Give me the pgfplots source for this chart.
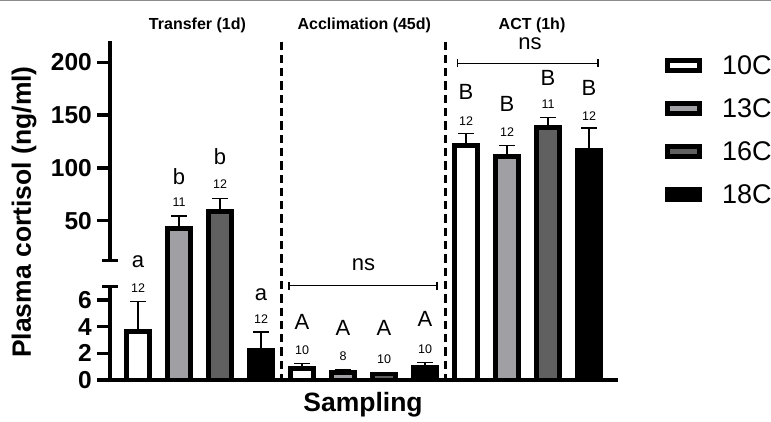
\documentclass[border=0pt]{standalone}
\usepackage{fontspec}
\setmainfont{Liberation Sans}
\usepackage{pgfplots}
\usepackage{pgfplotstable}
\pgfplotsset{compat=1.18}

\definecolor{g13}{RGB}{160,160,164}
\definecolor{g16}{RGB}{96,96,96}
\newcommand\fs[1]{\fontsize{#1}{#1}\selectfont}

% x = bar position (0-3 Transfer, 4-7 Acclimation, 8-11 ACT), y = mean, e = SEM
\pgfplotstableread{
x y e
0 3.62 2.28
4 0.88 0.37
8 121.2 11.1
}\tenC
\pgfplotstableread{
x y e
1 42.8 11.7
5 0.58 0.22
9 110.8 10.4
}\thirteenC
\pgfplotstableread{
x y e
2 58.5 12.8
6 0.45 0.13
10 138.3 9.5
}\sixteenC
\pgfplotstableread{
x y e
3 2.25 1.35
7 0.95 0.38
11 116.5 21.2
}\eighteenC

\pgfplotsset{
  brk/.style={scale only axis, width=508pt, xmin=-0.683, xmax=11.707,
    clip mode=individual, tick align=outside, major tick length=13pt,
    major tick style={line width=3.5pt, black},
    yticklabel style={font=\fs{24.5}\bfseries, inner sep=0pt, xshift=-5pt}},
  bs/.style={ybar, bar width=23pt, bar shift=0pt, line width=4.5pt, draw=black,
    error bars/y dir=plus, error bars/y explicit,
    error bars/error bar style={line width=1.3pt, black, solid},
    error bars/error mark options={rotate=90, mark size=8pt, line width=1.3pt, black}},
  leg/.style={legend image code/.code={%
    \draw[##1, line width=5pt] (0pt,-5.25pt) rectangle (32pt,5.25pt);
    \path (52pt,0pt);}},
}
\tikzset{
  nn/.style={font=\fs{12.5}, inner sep=0pt},
  lt/.style={font=\fs{22}, inner sep=0pt},
  dsh/.style={line width=3pt, dash pattern=on 8.3pt off 5pt},
}

\begin{document}
\begin{tikzpicture}
\path[use as bounding box] (0,0) rectangle (771pt,421pt);
\draw[black!45, line width=1pt] (0,420.5pt) -- (771pt,420.5pt);

% upper segment (only the values that reach it)
\begin{axis}[brk, at={(110pt,161pt)}, anchor=south west, height=219.3pt,
  ymin=12.8, ymax=220.5, restrict y to domain=12.8:1000,
  hide x axis, axis y line*=left,
  y axis line style={line width=3.5pt, -},
  ytick={50,100,150,200}, yticklabels={50,100,150,200},
  legend style={at={(axis description cs:1,1)}, anchor=north west,
    xshift=47.2pt, yshift=-14.6pt, draw=none, fill=none, inner sep=0pt,
    row sep=22.6pt, font=\fs{27}, nodes={inner sep=0pt}},
  legend cell align=left]
\addplot[bs, fill=white, leg] table[x=x, y=y, y error=e] {\tenC};
\addplot[bs, fill=g13, leg] table[x=x, y=y, y error=e] {\thirteenC};
\addplot[bs, fill=g16, leg] table[x=x, y=y, y error=e] {\sixteenC};
\addplot[bs, fill=black, leg] table[x=x, y=y, y error=e] {\eighteenC};
\legend{10C,13C,16C,18C}
\draw[line width=3pt] ([xshift=-8pt]axis cs:-0.683,12.8) -- ([xshift=8pt]axis cs:-0.683,12.8);
\node[nn] at (axis cs:1,68) {11};
\node[lt] at (axis cs:1,91.7) {b};
\node[nn] at (axis cs:2,84.8) {12};
\node[lt] at (axis cs:2,110.6) {b};
\node[nn] at (axis cs:8,144.7) {12};
\node[lt] at (axis cs:8,171.6) {B};
\node[nn] at (axis cs:9,133.7) {12};
\node[lt] at (axis cs:9,160.2) {B};
\node[nn] at (axis cs:10,160.2) {11};
\node[lt] at (axis cs:10,184.8) {B};
\node[nn] at (axis cs:11,149.4) {12};
\node[lt] at (axis cs:11,175.4) {B};
\draw[line width=1.3pt] (axis cs:7.79,199) -- (axis cs:11.22,199);
\draw[line width=1.3pt] ([yshift=4pt]axis cs:7.79,199) -- ([yshift=-4pt]axis cs:7.79,199);
\draw[line width=1.3pt] ([yshift=4pt]axis cs:11.22,199) -- ([yshift=-4pt]axis cs:11.22,199);
\node[font=\fs{22}, inner sep=0pt] at (axis cs:9.56,218) {ns};
\node[font=\fs{16}\bfseries, inner sep=0pt] at (axis cs:1.45,235.3) {Transfer (1d)};
\node[font=\fs{16}\bfseries, inner sep=0pt] at (axis cs:5.52,235.3) {Acclimation (45d)};
\node[font=\fs{16}\bfseries, inner sep=0pt] at (axis cs:9.61,235.3) {ACT (1h)};
\end{axis}

% lower segment 0-7 (its bars run on through the break)
\begin{axis}[brk, at={(110pt,41pt)}, anchor=south west, height=122.7pt,
  ymin=0, ymax=9.2, axis x line*=bottom, axis y line*=left,
  y axis line style={draw=none}, x axis line style={line width=3.5pt, -},
  xtick=\empty, ytick={0,2,4,6}, yticklabels={0,2,4,6}]
\addplot[bs, fill=white] table[x=x, y=y, y error=e] {\tenC};
\addplot[bs, fill=g13] table[x=x, y=y, y error=e] {\thirteenC};
\addplot[bs, fill=g16] table[x=x, y=y, y error=e] {\sixteenC};
\addplot[bs, fill=black] table[x=x, y=y, y error=e] {\eighteenC};
\draw[line width=3.5pt, line cap=rect] (axis cs:-0.683,0) -- (axis cs:-0.683,7);
\draw[line width=3pt] ([xshift=-8pt]axis cs:-0.683,7) -- ([xshift=8pt]axis cs:-0.683,7);
\draw[dsh] (axis cs:3.5,25.38) -- (axis cs:3.5,0);
\draw[dsh] (axis cs:7.5,25.38) -- (axis cs:7.5,0);
\node[nn] at (axis cs:0,6.9) {12};
\node[lt] at (axis cs:0,8.85) {a};
\node[nn] at (axis cs:3,4.58) {12};
\node[lt] at (axis cs:3,6.38) {a};
\node[nn] at (axis cs:4,2.25) {10};
\node[lt] at (axis cs:4,4.37) {A};
\node[nn] at (axis cs:5,1.75) {8};
\node[lt] at (axis cs:5,3.88) {A};
\node[nn] at (axis cs:6,1.58) {10};
\node[lt] at (axis cs:6,3.88) {A};
\node[nn] at (axis cs:7,2.33) {10};
\node[lt] at (axis cs:7,4.58) {A};
\draw[line width=1.3pt] (axis cs:3.68,7.07) -- (axis cs:7.29,7.07);
\draw[line width=1.3pt] ([yshift=4pt]axis cs:3.68,7.07) -- ([yshift=-4pt]axis cs:3.68,7.07);
\draw[line width=1.3pt] ([yshift=4pt]axis cs:7.29,7.07) -- ([yshift=-4pt]axis cs:7.29,7.07);
\node[font=\fs{22}, inner sep=0pt] at (axis cs:5.5,8.68) {ns};
\end{axis}

\node[rotate=90, font=\fs{26.5}\bfseries, inner sep=0pt] at (24pt,209pt) {Plasma cortisol (ng/ml)};
\node[font=\fs{26.5}\bfseries, inner sep=0pt] at (363pt,16.5pt) {Sampling};
\end{tikzpicture}
\end{document}
